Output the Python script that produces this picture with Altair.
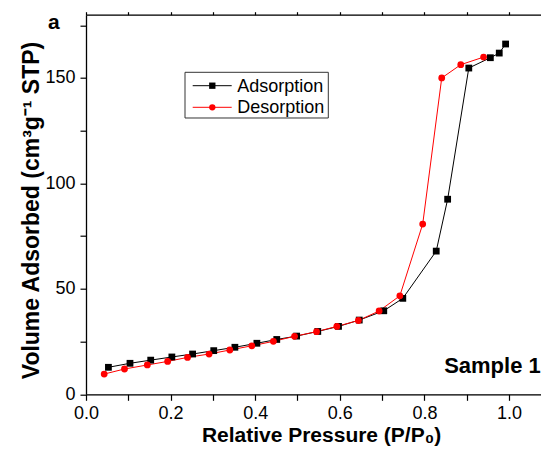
import altair as alt
import pandas as pd

# ---- data ----
ads_p = [0.053, 0.104, 0.153, 0.203, 0.252, 0.302, 0.352, 0.404, 0.451, 0.498, 0.548,
         0.597, 0.646, 0.704, 0.749, 0.828, 0.855, 0.905, 0.956, 0.977, 0.992]
ads_v = [12.8, 14.7, 16.2, 17.7, 19.1, 20.7, 22.3, 24.2, 26.0, 27.6, 29.8,
         32.2, 35.2, 39.6, 45.5, 67.9, 92.5, 154.7, 159.6, 161.8, 166.1]
des_p = [0.043, 0.091, 0.145, 0.193, 0.240, 0.291, 0.340, 0.392, 0.443, 0.493,
         0.545, 0.593, 0.644, 0.693, 0.742, 0.796, 0.841, 0.886, 0.940]
des_v = [9.6, 12.0, 13.9, 15.6, 17.5, 19.1, 21.0, 23.0, 25.1, 27.5,
         29.7, 32.2, 35.0, 39.5, 46.7, 80.7, 150.0, 156.3, 159.9]
series_names = ["Adsorption", "Desorption"]
series_colors = ["#000000", "#ff0000"]
series_shapes = ["square", "circle"]
x_ticks = [0.0, 0.1, 0.2, 0.3, 0.4, 0.5, 0.6, 0.7, 0.8, 0.9, 1.0]
y_ticks = [0, 25, 50, 75, 100, 125, 150, 175]
panel_label = "a"
sample_label = "Sample 1"

FONT = "Liberation Sans"
W, H = 455, 379.6
X_MAX = 1.0757

df = pd.concat([
    pd.DataFrame({"p": ads_p, "v": ads_v, "series": series_names[0], "order": range(len(ads_p))}),
    pd.DataFrame({"p": des_p, "v": des_v, "series": series_names[1], "order": range(len(des_p))}),
])

xscale = alt.Scale(domain=[0, X_MAX], nice=False, zero=False)
yscale = alt.Scale(domain=[0, 180], nice=False)
cscale = alt.Scale(domain=series_names, range=series_colors)
sscale = alt.Scale(domain=series_names, range=series_shapes)

x_axis = alt.Axis(
    orient="bottom", values=x_ticks,
    labelExpr="round(datum.value*10) % 2 == 0 ? format(datum.value, '.1f') : ''",
    tickSize=6, tickColor="black", domainColor="black", tickWidth=1.2, domainWidth=1.3,
    labelFontSize=18, labelFont=FONT, labelColor="black", labelPadding=4,
    grid=False, title="Relative Pressure (P/P\u2080)", titleFont=FONT, titleFontSize=21,
    titleFontWeight="bold", titleColor="black", titleX=235, titleY=47,
    titleBaseline="alphabetic", titleAlign="center", labelFlush=False, labelOverlap=False,
)
y_axis = alt.Axis(
    orient="left", values=y_ticks,
    labelExpr="datum.value % 50 == 0 ? format(datum.value, 'd') : ''",
    tickSize=6, tickColor="black", domainColor="black", tickWidth=1.2, domainWidth=1.3,
    labelFontSize=18, labelFont=FONT, labelColor="black", labelPadding=5,
    grid=False, title="Volume Adsorbed (cm\u00b3g\u207b\u00b9 STP)", titleFont=FONT,
    titleFontSize=23, titleFontWeight="bold", titleColor="black", titleAngle=270,
    titleX=-47.7, titleY=195.3, titleBaseline="alphabetic", titleAlign="center",
    labelFlush=False, labelOverlap=False,
)
top_axis = alt.Axis(
    orient="top", values=x_ticks, labels=False, title=None, tickSize=3,
    tickColor="black", domainColor="black", tickWidth=1.2, domainWidth=1.3, grid=False,
)

lines = alt.Chart(df).mark_line(strokeWidth=1).encode(
    x=alt.X("p:Q", scale=xscale, axis=x_axis),
    y=alt.Y("v:Q", scale=yscale, axis=y_axis),
    color=alt.Color("series:N", scale=cscale, legend=None),
    detail="series:N",
    order="order:Q",
)
points = alt.Chart(df).mark_point(filled=True, size=46, opacity=1).encode(
    x=alt.X("p:Q", scale=xscale, axis=None),
    y=alt.Y("v:Q", scale=yscale, axis=None),
    color=alt.Color("series:N", scale=cscale, legend=None),
    shape=alt.Shape("series:N", scale=sscale, legend=None),
    order=alt.Order("series:N", sort="ascending"),
)
top = alt.Chart(df).mark_point(opacity=0).encode(
    x=alt.X("p:Q", scale=xscale, axis=top_axis),
    y=alt.Y("v:Q", scale=yscale, axis=None),
)

txt_df = pd.DataFrame({"t": [panel_label, sample_label]})
a_text = alt.Chart(txt_df.iloc[[0]]).mark_text(
    font=FONT, fontSize=21, fontWeight="bold", align="center", baseline="alphabetic", color="black"
).encode(x=alt.value(-32.2), y=alt.value(14.3), text="t:N")
s_text = alt.Chart(txt_df.iloc[[1]]).mark_text(
    font=FONT, fontSize=22, fontWeight="bold", align="right", baseline="alphabetic", color="black"
).encode(x=alt.value(454.7), y=alt.value(358.6), text="t:N")

# legend (drawn manually: line through marker, as in the reference)
leg_df = pd.DataFrame({"series": series_names})
legend_layers = [
    alt.Chart(leg_df.iloc[[0]]).mark_rect(fill="white", stroke="#333333", strokeWidth=1).encode(
        x=alt.value(99), x2=alt.value(242.3), y=alt.value(57.6), y2=alt.value(103.3))
]
row_y = [71.0, 92.6]
for i, name in enumerate(series_names):
    d = leg_df.iloc[[i]]
    legend_layers.append(alt.Chart(d).mark_rule(color=series_colors[i], strokeWidth=1).encode(
        x=alt.value(106.7), x2=alt.value(145.7), y=alt.value(row_y[i])))
    legend_layers.append(alt.Chart(d).mark_point(
        filled=True, opacity=1, size=40, shape=series_shapes[i], color=series_colors[i]).encode(
        x=alt.value(126.3), y=alt.value(row_y[i])))
    legend_layers.append(alt.Chart(d).mark_text(
        font=FONT, fontSize=18, align="left", baseline="alphabetic", color="black").encode(
        x=alt.value(151.3), y=alt.value(row_y[i] + 6.2), text="series:N"))

chart = alt.layer(lines, points, top, a_text, s_text, *legend_layers).resolve_axis(
    x="independent", y="independent"
).properties(
    width=W, height=H,
    autosize=alt.AutoSizeParams(type="none"),
    padding={"left": 78, "top": 6.7, "right": 0, "bottom": 54},
).configure_view(stroke=None).configure(background="white")

chart.save("out.html", embed_options={"renderer": "svg", "actions": False})
